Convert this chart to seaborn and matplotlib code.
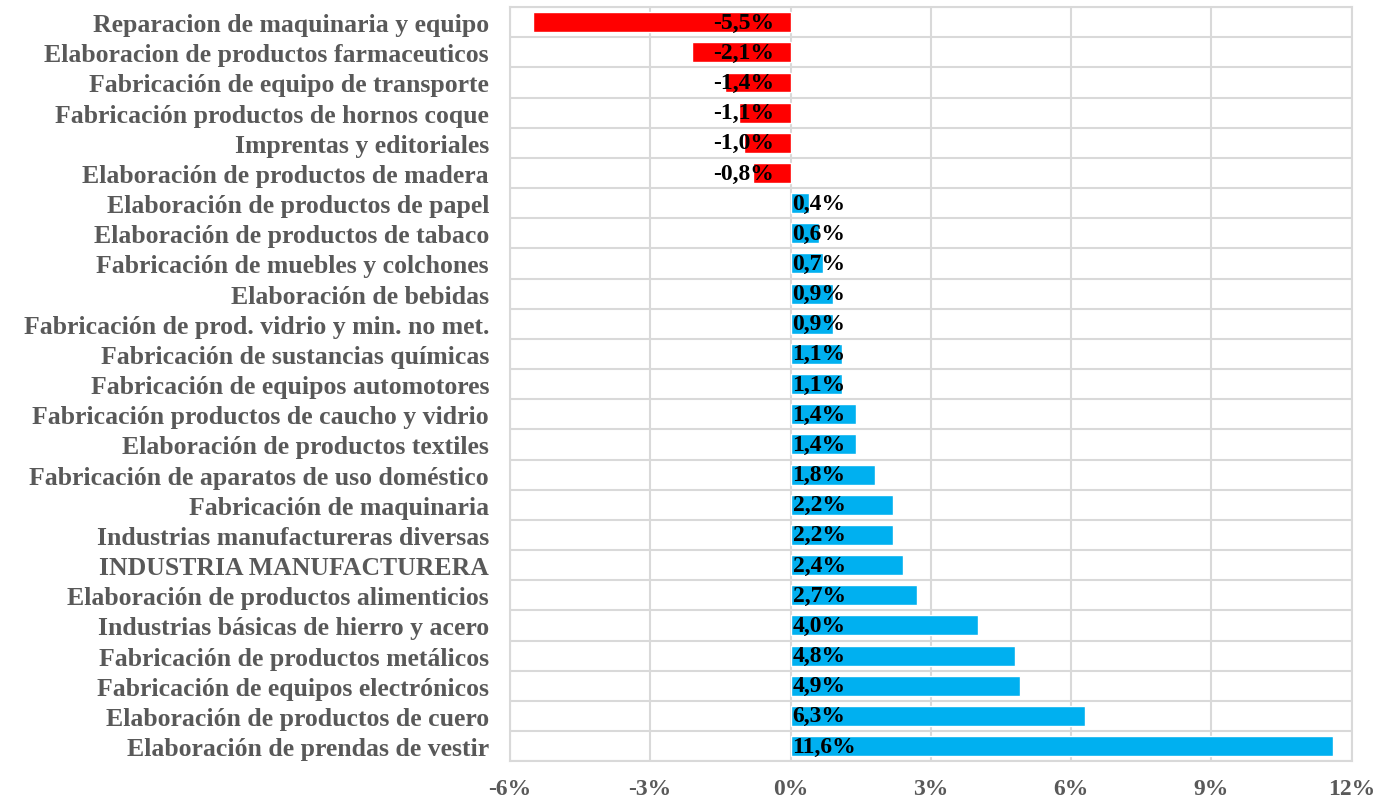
import matplotlib
matplotlib.use("Agg")
import matplotlib.pyplot as plt
import numpy as np
import pandas as pd
import seaborn as sns

categories = [
    "Reparacion de maquinaria y equipo",
    "Elaboracion de productos farmaceuticos",
    "Fabricación de equipo de transporte",
    "Fabricación productos de hornos coque",
    "Imprentas y editoriales",
    "Elaboración de productos de madera",
    "Elaboración de productos de papel",
    "Elaboración de productos de tabaco",
    "Fabricación de muebles y colchones",
    "Elaboración de bebidas",
    "Fabricación de prod. vidrio y min. no met.",
    "Fabricación de sustancias químicas",
    "Fabricación de equipos automotores",
    "Fabricación productos de caucho y vidrio",
    "Elaboración de productos textiles",
    "Fabricación de aparatos de uso doméstico",
    "Fabricación de maquinaria",
    "Industrias manufactureras diversas",
    "INDUSTRIA MANUFACTURERA",
    "Elaboración de productos alimenticios",
    "Industrias básicas de hierro y acero",
    "Fabricación de productos metálicos",
    "Fabricación de equipos electrónicos",
    "Elaboración de productos de cuero",
    "Elaboración de prendas de vestir",
]
values = [-5.5, -2.1, -1.4, -1.1, -1.0, -0.8, 0.4, 0.6, 0.7, 0.9, 0.9, 1.1, 1.1,
          1.4, 1.4, 1.8, 2.2, 2.2, 2.4, 2.7, 4.0, 4.8, 4.9, 6.3, 11.6]
x_ticks = [-6, -3, 0, 3, 6, 9, 12]

NEG_COLOR = "#FF0000"
POS_COLOR = "#00B0F0"
GRID = "#D9D9D9"
TEXT_GREY = "#595959"

sns.set_theme(style="white")
plt.rcParams["font.family"] = ["Liberation Serif", "DejaVu Serif"]

df = pd.DataFrame({"sector": categories, "value": values})
df["sign"] = np.where(df["value"] < 0, "neg", "pos")

fig = plt.figure(figsize=(13.78, 8.04), dpi=100)
ax = fig.add_axes([0.370, 0.052, 0.611, 0.938])

sns.barplot(data=df, x="value", y="sector", hue="sign", orient="h",
            palette={"neg": NEG_COLOR, "pos": POS_COLOR}, width=0.66,
            dodge=False, legend=False, ax=ax, saturation=1)

ax.set_xlim(-6, 12)
ax.set_ylim(len(categories) - 0.5, -0.5)
ax.set_xticks(x_ticks)
ax.set_xticklabels([f"{t}%" for t in x_ticks])
ax.set_xlabel("")
ax.set_ylabel("")

# vertical grid at ticks, horizontal lines between categories
for t in x_ticks:
    ax.axvline(t, color=GRID, lw=1.5, zorder=0)
for b in np.arange(-0.5, len(categories), 1.0):
    ax.axhline(b, color=GRID, lw=1.5, zorder=0)
for s in ax.spines.values():
    s.set_color(GRID)
    s.set_linewidth(1.5)

ax.tick_params(axis="both", length=0)
ax.tick_params(axis="x", pad=12)
ax.tick_params(axis="y", pad=15)
for lab in ax.get_xticklabels():
    lab.set_fontsize(17)
    lab.set_fontweight("bold")
    lab.set_color(TEXT_GREY)
for lab in ax.get_yticklabels():
    lab.set_fontsize(18.5)
    lab.set_fontweight("bold")
    lab.set_color(TEXT_GREY)

for i, v in enumerate(values):
    txt = f"{v:.1f}%".replace(".", ",")
    if v < 0:
        ax.annotate(txt, (0, i), xytext=(-12, 0), textcoords="offset points",
                    ha="right", va="center", fontsize=17, fontweight="bold",
                    color="black")
    else:
        ax.annotate(txt, (0, i), xytext=(1.5, 0), textcoords="offset points",
                    ha="left", va="center", fontsize=17, fontweight="bold",
                    color="black")

fig.savefig("out.png", dpi=100)
plt.close(fig)
